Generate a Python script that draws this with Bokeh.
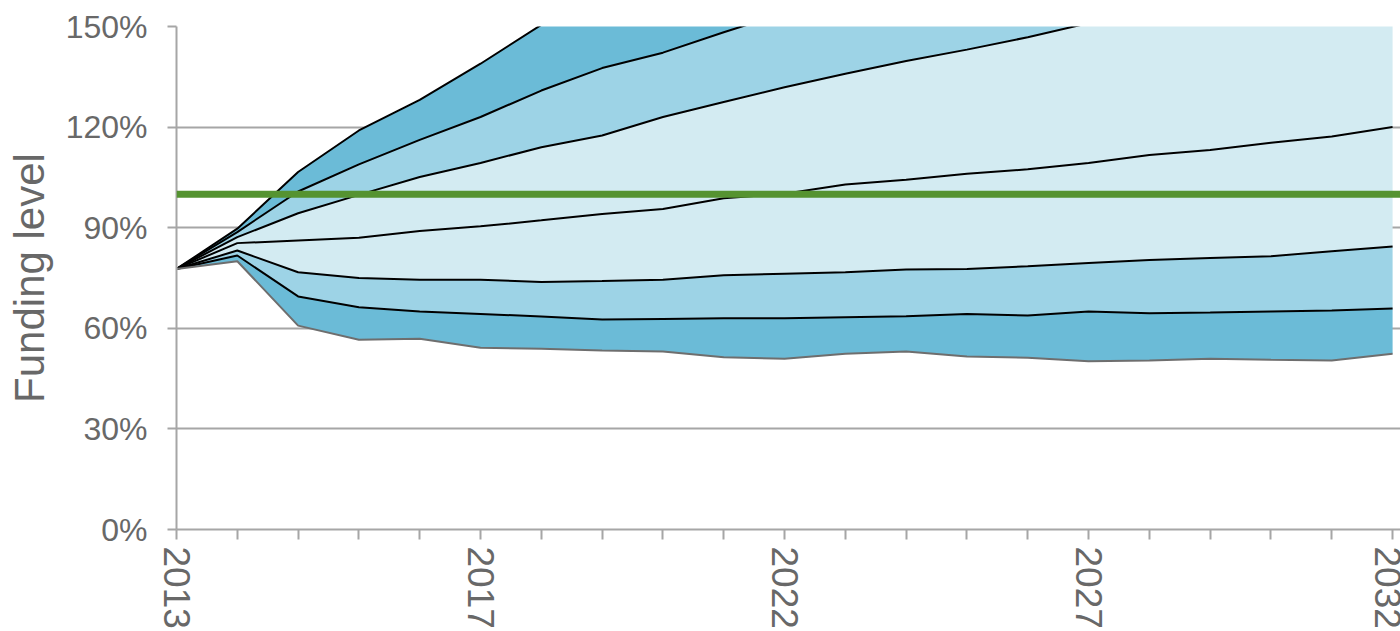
import math
from bokeh.plotting import figure
from bokeh.models import Range1d, FixedTicker, PrintfTickFormatter, Span
from bokeh.embed import file_html
from bokeh.resources import INLINE

# ---- data ----
x_labels = ["2013", "", "", "", "", "2017", "", "", "", "", "2022",
            "", "", "", "", "2027", "", "", "", "", "2032"]
p5 = [77.7, 80.0, 60.8, 56.6, 56.9, 54.2, 53.9, 53.4, 53.1, 51.4, 50.9,
      52.4, 53.1, 51.6, 51.2, 50.2, 50.4, 50.9, 50.6, 50.4, 52.4]
p10 = [77.7, 81.7, 69.5, 66.3, 65.0, 64.3, 63.5, 62.6, 62.8, 63.0, 63.0,
       63.3, 63.6, 64.3, 63.8, 65.0, 64.5, 64.7, 65.0, 65.3, 65.9]
p25 = [77.7, 83.2, 76.7, 75.0, 74.5, 74.5, 73.8, 74.1, 74.5, 75.8, 76.3,
       76.7, 77.5, 77.7, 78.5, 79.5, 80.4, 81.0, 81.5, 83.0, 84.4]
p50 = [77.7, 85.4, 86.2, 87.0, 89.0, 90.4, 92.2, 94.1, 95.6, 98.8, 100.1,
       102.9, 104.3, 106.1, 107.4, 109.3, 111.7, 113.2, 115.3, 117.2, 120.0]
p75 = [77.7, 87.2, 94.3, 99.8, 105.1, 109.3, 114.0, 117.5, 123.0, 127.5, 131.9,
       135.9, 139.7, 143.1, 146.8, 151.0, 155.5, 160.0, 164.5, 169.0, 174.0]
p90 = [77.7, 88.7, 100.8, 108.9, 116.2, 123.0, 130.9, 137.6, 142.2, 148.3, 154.0,
       159.0, 164.0, 169.0, 174.0, 179.0, 184.0, 189.0, 194.0, 199.0, 204.0]
p95 = [77.7, 89.7, 106.6, 119.0, 128.1, 138.9, 150.5, 160.0, 169.0, 178.0, 187.0,
       195.0, 203.0, 211.0, 219.0, 227.0, 235.0, 243.0, 251.0, 259.0, 267.0]
target_level = 100
y_ticks = [0, 30, 60, 90, 120, 150]

x = list(range(len(x_labels)))

DARK = "#6bbbd7"
MED = "#9dd3e6"
LIGHT = "#d3ebf2"
GRAY_TXT = "#686868"
GRAY_AX = "#a6a6a6"
FONT = "Liberation Sans"

p = figure(width=1400, height=631, output_backend="svg", toolbar_location=None,
           x_range=Range1d(0, 20.13), y_range=Range1d(0, 150),
           min_border_left=176, min_border_top=26, min_border_right=0,
           min_border_bottom=102)
p.outline_line_color = None
p.background_fill_color = "white"

bands = [(p5, p10, DARK), (p10, p25, MED), (p25, p50, LIGHT),
         (p50, p75, LIGHT), (p75, p90, MED), (p90, p95, DARK)]
for lo, hi, c in bands:
    p.varea(x=x, y1=lo, y2=hi, fill_color=c, fill_alpha=1.0)

for s in [p10, p25, p50, p75, p90, p95]:
    p.line(x, s, line_color="black", line_width=2)
p.line(x, p5, line_color="#6e6e6e", line_width=2)

p.add_layout(Span(location=target_level, dimension="width",
                  line_color="#559331", line_width=7))

# axes
p.xgrid.grid_line_color = None
p.ygrid.grid_line_color = GRAY_AX
p.ygrid.grid_line_width = 2
p.ygrid.ticker = FixedTicker(ticks=y_ticks)

xa = p.xaxis[0]
xa.ticker = FixedTicker(ticks=x)
xa.major_label_overrides = {i: lab for i, lab in enumerate(x_labels)}
xa.major_label_orientation = -math.pi / 2
xa.major_label_text_font = FONT
xa.major_label_text_font_size = "37px"
xa.major_label_text_color = GRAY_TXT
xa.major_label_standoff = 7
xa.major_tick_out = 10
xa.major_tick_in = 0
xa.minor_tick_out = 0
xa.minor_tick_in = 0
xa.axis_line_color = GRAY_AX
xa.axis_line_width = 2
xa.major_tick_line_color = GRAY_AX
xa.major_tick_line_width = 2

ya = p.yaxis[0]
ya.ticker = FixedTicker(ticks=y_ticks)
ya.formatter = PrintfTickFormatter(format="%d%%")
ya.major_label_text_font = FONT
ya.major_label_text_font_size = "32px"
ya.major_label_text_color = GRAY_TXT
ya.major_label_standoff = 20
ya.major_tick_out = 9
ya.major_tick_in = 0
ya.minor_tick_out = 0
ya.minor_tick_in = 0
ya.axis_line_color = GRAY_AX
ya.axis_line_width = 2
ya.major_tick_line_color = GRAY_AX
ya.major_tick_line_width = 2
ya.axis_label = "Funding level"
ya.axis_label_text_font = FONT
ya.axis_label_text_font_size = "42px"
ya.axis_label_text_font_style = "normal"
ya.axis_label_text_color = GRAY_TXT
ya.axis_label_standoff = 10

open("out.html", "w").write(file_html(p, INLINE))
